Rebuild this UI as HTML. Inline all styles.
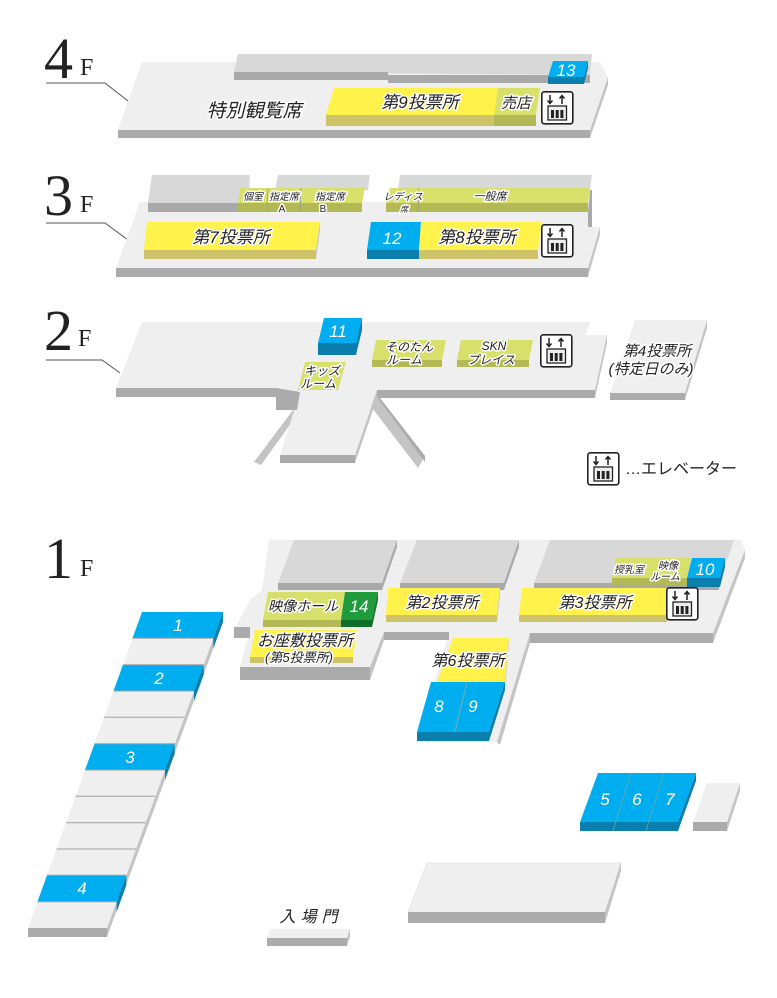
<!DOCTYPE html>
<html><head><meta charset="utf-8"><style>
html,body{margin:0;padding:0;background:#fff;}
svg{display:block;}
.t{font-family:"Liberation Sans","Noto Sans CJK JP",sans-serif;font-style:italic;fill:#222;stroke:#fff;stroke-width:3;paint-order:stroke;stroke-linejoin:round;text-anchor:middle;}
.n{font-family:"Liberation Sans",sans-serif;font-style:italic;fill:#fff;text-anchor:middle;font-size:17px;}
.fl{font-family:"Liberation Serif",serif;fill:#222;}
.s{fill:#efefef;} .sf{fill:#ababab;} .ss{fill:#c4c4c4;}
.g{fill:#d8d8d8;} .gf{fill:#a9a9a9;}
.y{fill:#fff24a;} .yf{fill:#cfc36a;}
.c{fill:#d8e06c;} .cf{fill:#b2b955;}
.b{fill:#00aeef;} .bf{fill:#0a7fae;}
</style></head><body>
<svg width="777" height="998" viewBox="0 0 777 998" xmlns="http://www.w3.org/2000/svg">
<defs>
<g id="ev">
<rect x="0.8" y="0.8" width="31" height="32" rx="2.5" fill="#fff" stroke="#222" stroke-width="1.6"/>
<path d="M9 4v8M6.5 9.5L9 12.5L11.5 9.5M21 13V5M18.5 7.5L21 4.5L23.5 7.5" stroke="#222" stroke-width="1.5" fill="none"/>
<rect x="7" y="15" width="18.5" height="14" fill="#eee" stroke="#222" stroke-width="1.3"/>
<rect x="10" y="19" width="3" height="8" fill="#222"/><rect x="14.7" y="19" width="3" height="8" fill="#222"/><rect x="19.4" y="19" width="3" height="8" fill="#222"/>
</g>
</defs>

<!-- 4F -->
<text class="fl" x="44" y="78" font-size="58">4</text><text class="fl" x="80" y="75" font-size="24">F</text>
<polyline points="46,83 105,83 128,101" fill="none" stroke="#555" stroke-width="1"/>
<polygon class="s" points="142,62 600,62 608,77 590,130 118,130"/>
<polygon class="sf" points="118,130 590,130 590,138 118,138"/>
<polygon class="ss" points="608,77 608,85 590,138 590,130"/>
<polygon class="g" points="238,54 592,54 590,75 234,72"/>
<polygon class="gf" points="234,72 388,72 388,80 234,80"/>
<polygon class="gf" points="388,75 590,75 590,83 388,83"/>
<polygon class="b" points="553,61 588,61 584,77 548,77"/>
<polygon class="bf" points="548,77 584,77 584,84 548,84"/>
<polygon class="bf" points="588,61 588,68 584,84 584,77"/>
<text class="n" x="566" y="76">13</text>
<polygon class="y" points="334,88 506,88 502,115 326,115"/>
<polygon class="yf" points="326,115 502,115 502,126 326,126"/>
<polygon class="c" points="498,88 540,88 536,115 494,115"/>
<polygon class="cf" points="494,115 536,115 536,126 494,126"/>
<text class="t" x="420" y="108" font-size="17">第9投票所</text>
<text class="t" x="516" y="108" font-size="15">売店</text>
<text class="t" x="254" y="117" font-size="19">特別観覧席</text>
<use href="#ev" x="541" y="91"/>

<!-- 3F -->
<text class="fl" x="44" y="215" font-size="58">3</text><text class="fl" x="80" y="212" font-size="24">F</text>
<polyline points="46,223 105,223 128,240" fill="none" stroke="#555" stroke-width="1"/>
<polygon class="s" points="140,202 590,202 592,227 600,227 588,268 116,268"/>
<polygon class="sf" points="116,268 588,268 588,277 116,277"/>
<polygon class="ss" points="600,227 600,235 588,277 588,268"/>
<polygon class="g" points="152,175 250,175 248,203 148,203"/>
<polygon class="gf" points="148,203 248,203 248,212 148,212"/>
<polygon class="g" points="278,175 370,175 368,190 275,190"/>
<polygon class="c" points="240,188 365,188 362,203 238,203"/>
<polygon class="cf" points="238,203 362,203 362,212 238,212"/>
<line x1="268" y1="188" x2="267" y2="212" stroke="#999" stroke-width="0.8"/>
<line x1="301" y1="188" x2="300" y2="212" stroke="#999" stroke-width="0.8"/>
<text class="t" x="253" y="200" font-size="10">個室</text>
<text class="t" x="284" y="200" font-size="10">指定席</text>
<text class="t" x="330" y="200" font-size="10">指定席</text>
<text class="t" x="282" y="212" font-size="10" style="font-style:normal">A</text>
<text class="t" x="323" y="212" font-size="10" style="font-style:normal">B</text>
<polygon class="g" points="400,175 592,175 590,190 398,190"/>
<polygon class="c" points="390,188 590,188 588,203 386,203"/>
<polygon class="cf" points="386,203 588,203 588,212 386,212"/>
<polygon class="gf" points="590,190 592,190 592,227 588,227 588,212"/>
<line x1="419" y1="188" x2="418" y2="212" stroke="#999" stroke-width="0.8"/>
<text class="t" x="403" y="200" font-size="10">レディス</text>
<text class="t" x="404" y="212" font-size="8">席</text>
<text class="t" x="490" y="200" font-size="11">一般席</text>
<polygon class="y" points="147,222 320,222 316,250 144,250"/>
<polygon class="yf" points="144,250 316,250 316,259 144,259"/>
<polygon class="ss" points="320,222 320,230 316,259 316,250"/>
<text class="t" x="231" y="243" font-size="17">第7投票所</text>
<polygon class="b" points="371,222 421,222 419,250 367,250"/>
<polygon class="bf" points="367,250 419,250 419,259 367,259"/>
<text class="n" x="392" y="244" font-size="18">12</text>
<polygon class="y" points="421,222 542,222 538,250 419,250"/>
<polygon class="yf" points="419,250 538,250 538,259 419,259"/>
<text class="t" x="477" y="243" font-size="17">第8投票所</text>
<use href="#ev" x="541" y="224"/>

<!-- 2F -->
<text class="fl" x="44" y="350" font-size="58">2</text><text class="fl" x="78" y="346" font-size="24">F</text>
<polyline points="46,360 102,360 120,373" fill="none" stroke="#555" stroke-width="1"/>
<polygon class="ss" points="296,406 302,408 261,465 254,462"/>
<polygon class="ss" points="366,400 377,397 425,456 418,468"/>
<polygon class="sf" points="377,397 380,398 425,456 425,462"/>
<polygon class="s" points="142,322 590,322 586,335 607,335 595,390 377,390 355,455 280,455 300,392 276,388 116,388"/>
<polygon class="sf" points="116,388 276,388 276,397 116,397"/>
<polygon class="sf" points="276,388 300,392 297,410 276,410"/>
<polygon class="sf" points="377,390 595,390 595,398 377,398"/>
<polygon class="sf" points="280,455 355,455 355,463 280,463"/>
<polygon class="ss" points="607,335 607,343 595,398 595,390"/>
<polygon class="ss" points="377,390 377,398 355,463 355,455"/>
<polygon class="b" points="324,318 362,318 356,343 318,343"/>
<polygon class="bf" points="318,343 356,343 356,355 318,355"/>
<polygon class="bf" points="362,318 362,330 356,355 356,343"/>
<text class="n" x="338" y="337">11</text>
<polygon class="c" points="305,362 346,362 338,390 298,390"/>
<text class="t" x="322" y="375" font-size="12">キッズ</text>
<text class="t" x="318" y="388" font-size="12">ルーム</text>
<polygon class="c" points="376,340 446,340 442,360 372,360"/>
<polygon class="cf" points="372,360 442,360 442,367 372,367"/>
<text class="t" x="409" y="351" font-size="12">そのたん</text>
<text class="t" x="404" y="364" font-size="12">ルーム</text>
<polygon class="c" points="461,340 533,340 529,360 457,360"/>
<polygon class="cf" points="457,360 529,360 529,367 457,367"/>
<text class="t" x="494" y="350" font-size="12">SKN</text>
<text class="t" x="491" y="364" font-size="12">プレイス</text>
<use href="#ev" x="540" y="334"/>
<polygon class="s" points="635,320 707,320 685,393 610,393"/>
<polygon class="sf" points="610,393 685,393 685,400 610,400"/>
<polygon class="ss" points="707,320 707,328 685,400 685,393"/>
<text class="t" x="657" y="356" font-size="15">第4投票所</text>
<text class="t" x="651" y="374" font-size="15">(特定日のみ)</text>
<use href="#ev" x="587" y="452"/>
<text x="625" y="474" font-size="16" font-family="Liberation Sans,Noto Sans CJK JP,sans-serif" fill="#222">…エレベーター</text>

<!-- 1F -->
<text class="fl" x="44" y="578" font-size="58">1</text><text class="fl" x="80" y="576" font-size="24">F</text>
<polygon class="s" points="269,540 741,540 745,550 713,633 530,633 497,742 417,742 449,632 384,632 370,667 240,667 250,630 234,630 250,600 262,590"/>
<polygon class="sf" points="530,633 713,633 713,643 530,643"/>
<polygon class="ss" points="745,550 745,558 713,643 713,633"/>
<polygon class="ss" points="530,633 530,643 500,745 497,742"/>
<polygon class="sf" points="384,632 449,632 449,640 384,640"/>
<polygon class="sf" points="240,667 370,667 370,680 240,680"/>
<polygon class="ss" points="384,632 384,640 370,680 370,667"/>
<polygon class="sf" points="234,627 250,627 250,638 234,638"/>
<polygon class="g" points="294,540 397,540 382,583 278,583"/>
<polygon class="gf" points="278,583 382,583 382,590 278,590"/>
<polygon class="gf" points="397,540 397,547 382,590 382,583"/>
<polygon class="g" points="417,540 519,540 504,583 400,583"/>
<polygon class="gf" points="400,583 504,583 504,590 400,590"/>
<polygon class="gf" points="519,540 519,547 504,590 504,583"/>
<polygon class="g" points="550,540 734,540 719,583 534,583"/>
<polygon class="gf" points="534,583 719,583 719,590 534,590"/>
<polygon class="c" points="616,558 648,558 644,578 612,578"/>
<polygon class="cf" points="612,578 644,578 644,585 612,585"/>
<polygon class="c" points="648,558 691,558 687,578 644,578"/>
<polygon class="cf" points="644,578 687,578 687,585 644,585"/>
<text class="t" x="629" y="573" font-size="10">授乳室</text>
<text class="t" x="668" y="569" font-size="10">映像</text>
<text class="t" x="665" y="580" font-size="10">ルーム</text>
<polygon class="b" points="692,558 725,558 720,578 687,578"/>
<polygon class="bf" points="687,578 720,578 720,587 687,587"/>
<polygon class="bf" points="725,558 725,567 720,587 720,578"/>
<text class="n" x="705" y="575">10</text>
<polygon class="c" points="268,592 345,592 341,620 263,620"/>
<polygon class="cf" points="263,620 341,620 341,627 263,627"/>
<text class="t" x="303" y="611" font-size="14">映像ホール</text>
<polygon points="345,592 378,592 372,620 341,620" fill="#1f9a3c"/>
<polygon points="341,620 372,620 372,627 341,627" fill="#0f6e2a"/>
<polygon points="378,592 378,600 372,627 372,620" fill="#0f6e2a"/>
<text class="n" x="359" y="612">14</text>
<polygon class="y" points="255,630 357,630 353,657 250,657"/>
<polygon class="yf" points="250,657 353,657 353,663 250,663"/>
<text class="t" x="305" y="646" font-size="16">お座敷投票所</text>
<text class="t" x="299" y="662" font-size="13">(第5投票所)</text>
<polygon class="y" points="388,588 500,588 497,615 386,615"/>
<polygon class="yf" points="386,615 497,615 497,622 386,622"/>
<polygon class="ss" points="500,588 500,595 497,622 497,615"/>
<text class="t" x="442" y="608" font-size="16">第2投票所</text>
<polygon class="y" points="522,588 667,588 667,615 519,615"/>
<polygon class="yf" points="519,615 667,615 667,622 519,622"/>
<text class="t" x="595" y="608" font-size="16">第3投票所</text>
<use href="#ev" x="666" y="587"/>
<polygon class="y" points="453,638 509,638 505,682 437,682"/>
<polygon class="ss" points="509,638 509,645 505,688 505,682"/>
<text class="t" x="468" y="666" font-size="16">第6投票所</text>
<polygon class="b" points="431,682 467,682 453,732 417,732"/>
<polygon class="b" points="467,682 505,682 489,732 453,732"/>
<line x1="467" y1="682" x2="453" y2="741" stroke="#8aa" stroke-width="0.8"/>
<polygon class="bf" points="417,732 489,732 489,741 417,741"/>
<polygon class="bf" points="505,682 505,690 489,741 489,732"/>
<text class="n" x="439" y="712" font-size="19">8</text>
<text class="n" x="473" y="712" font-size="19">9</text>

<!-- left column -->
<polygon class="ss" points="223,612 223,622 107,937 107,928"/>
<polygon class="s" points="142,612 223,612 107,928 28,928"/>
<polygon class="sf" points="28,928 107,928 107,937 28,937"/>
<polygon class="b" points="142,612 223,612 213.3,638.3 132.5,638.3"/>
<polygon class="bf" points="223,612 223,622 213.3,648.3 213.3,638.3"/>
<polygon class="b" points="123,664.7 203.7,664.7 194,691 113.5,691"/>
<polygon class="bf" points="203.7,664.7 203.7,674.7 194,701 194,691"/>
<polygon class="b" points="94.6,743.7 174.7,743.7 165,770 85,770"/>
<polygon class="bf" points="174.7,743.7 174.7,753.7 165,780 165,770"/>
<polygon class="b" points="47,875.3 126.3,875.3 116.7,901.7 37.5,901.7"/>
<polygon class="bf" points="126.3,875.3 126.3,885.3 116.7,911.7 116.7,901.7"/>
<g stroke="#a0a0a0" stroke-width="1">
<line x1="132.5" y1="638.3" x2="213.3" y2="638.3"/><line x1="123" y1="664.7" x2="203.7" y2="664.7"/>
<line x1="113.5" y1="691" x2="194" y2="691"/><line x1="104" y1="717.3" x2="184.3" y2="717.3"/>
<line x1="94.6" y1="743.7" x2="174.7" y2="743.7"/><line x1="85" y1="770" x2="165" y2="770"/>
<line x1="75.5" y1="796.3" x2="155.3" y2="796.3"/><line x1="66" y1="822.7" x2="145.7" y2="822.7"/>
<line x1="56.6" y1="849" x2="136" y2="849"/><line x1="47" y1="875.3" x2="126.3" y2="875.3"/>
<line x1="37.5" y1="901.7" x2="116.7" y2="901.7"/>
</g>
<text class="n" x="178" y="631" font-size="16">1</text>
<text class="n" x="159" y="684" font-size="16">2</text>
<text class="n" x="130" y="763" font-size="16">3</text>
<text class="n" x="82" y="894" font-size="16">4</text>

<!-- bottom -->
<polygon class="b" points="598,773 696,773 678,822 580,822"/>
<polygon class="bf" points="580,822 678,822 678,831 580,831"/>
<polygon class="bf" points="696,773 696,781 678,831 678,822"/>
<g stroke="#6aa" stroke-width="0.8"><line x1="631" y1="773" x2="613" y2="831"/><line x1="664" y1="773" x2="646" y2="831"/></g>
<text class="n" x="605" y="805" font-size="19">5</text>
<text class="n" x="637" y="805" font-size="19">6</text>
<text class="n" x="670" y="805" font-size="19">7</text>
<polygon class="s" points="707,783 740,783 727,822 693,822"/>
<polygon class="sf" points="693,822 727,822 727,831 693,831"/>
<polygon class="ss" points="740,783 740,791 727,831 727,822"/>
<polygon class="s" points="427,863 621,863 605,912 408,912" stroke="#ddd" stroke-width="0.6"/>
<polygon class="sf" points="408,912 605,912 605,923 408,923"/>
<polygon class="ss" points="621,863 621,871 605,923 605,912"/>
<text x="311" y="922" font-size="16" font-family="Liberation Sans,Noto Sans CJK JP,sans-serif" font-style="italic" fill="#222" text-anchor="middle" letter-spacing="5">入場門</text>
<polygon class="s" points="270,929 350,929 347,938 267,938"/>
<polygon class="sf" points="267,938 347,938 347,946 267,946"/>
<polygon class="ss" points="350,929 350,937 347,946 347,938"/>
</svg>
</body></html>
